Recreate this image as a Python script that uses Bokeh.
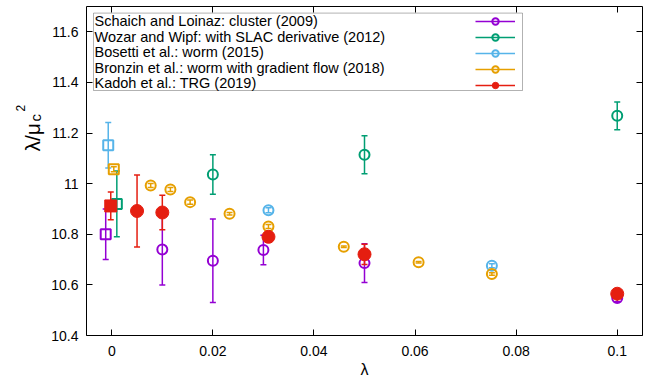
import numpy as np
from bokeh.plotting import figure
from bokeh.layouts import row
from bokeh.models import (LinearAxis, FixedTicker, Range1d, Label, BoxAnnotation,
                          Legend, LegendItem)
from bokeh.embed import file_html
from bokeh.resources import INLINE

FONT = "Liberation Sans"

# ---------------- data ----------------
x_ticks = [0, 0.02, 0.04, 0.06, 0.08, 0.1]
x_tick_labels = ["0", "0.02", "0.04", "0.06", "0.08", "0.1"]
y_ticks = [10.4, 10.6, 10.8, 11.0, 11.2, 11.4, 11.6]
y_tick_labels = ["10.4", "10.6", "10.8", "11", "11.2", "11.4", "11.6"]

names = ["Schaich and Loinaz: cluster (2009)",
         "Wozar and Wipf: with SLAC derivative (2012)",
         "Bosetti et al.: worm (2015)",
         "Bronzin et al.: worm with gradient flow (2018)",
         "Kadoh et al.: TRG (2019)"]
colors = ["#9400D3", "#009E73", "#56B4E9", "#E69F00", "#E51E10"]

schaich_lam = [0.01, 0.02, 0.03, 0.05, 0.1]
schaich_val = [10.740, 10.695, 10.738, 10.686, 10.548]
schaich_err = [0.140, 0.165, 0.058, 0.077, 0.015]
schaich_lam0 = [-0.0012]
schaich_val0 = [10.800]
schaich_err0 = [0.100]

wozar_lam = [0.02, 0.05, 0.1]
wozar_val = [11.036, 11.114, 11.268]
wozar_err = [0.078, 0.075, 0.055]
wozar_lam0 = [0.0010]
wozar_val0 = [10.920]
wozar_err0 = [0.130]

bosetti_lam = [0.031, 0.0752]
bosetti_val = [10.895, 10.676]
bosetti_err = [0.010, 0.008]
bosetti_lam0 = [-0.0007]
bosetti_val0 = [11.152]
bosetti_err0 = [0.090]

bronzin_lam = [0.0077, 0.0116, 0.0155, 0.0233, 0.031, 0.0459, 0.0607, 0.0752]
bronzin_val = [10.993, 10.977, 10.927, 10.881, 10.831, 10.751, 10.689, 10.643]
bronzin_err = [0.008, 0.008, 0.008, 0.005, 0.008, 0.003, 0.003, 0.005]
bronzin_lam0 = [0.0004]
bronzin_val0 = [11.057]
bronzin_err0 = [0.010]

kadoh_lam = [0.005, 0.01, 0.031, 0.05, 0.1]
kadoh_val = [10.892, 10.886, 10.790, 10.721, 10.565]
kadoh_err = [0.142, 0.068, 0.020, 0.040, 0.010]
kadoh_lam0 = [-0.0002]
kadoh_val0 = [10.912]
kadoh_err0 = [0.055]

series = [
    (schaich_lam, schaich_val, schaich_err, schaich_lam0, schaich_val0, schaich_err0, False),
    (wozar_lam, wozar_val, wozar_err, wozar_lam0, wozar_val0, wozar_err0, False),
    (bosetti_lam, bosetti_val, bosetti_err, bosetti_lam0, bosetti_val0, bosetti_err0, False),
    (bronzin_lam, bronzin_val, bronzin_err, bronzin_lam0, bronzin_val0, bronzin_err0, False),
    (kadoh_lam, kadoh_val, kadoh_err, kadoh_lam0, kadoh_val0, kadoh_err0, True),
]

H = 381
W_LAB = 46
W_MAIN = 604

# ---------------- narrow figure holding the y-axis title ----------------
lab = figure(width=W_LAB, height=H, x_range=Range1d(0, W_LAB), y_range=Range1d(0, H),
             output_backend="svg", toolbar_location=None, min_border=0,
             x_axis_location=None, y_axis_location=None)
lab.outline_line_color = None
lab.xgrid.visible = False
lab.ygrid.visible = False
lab.add_layout(Label(x=32, y=184, x_units="screen", y_units="screen", text="λ/μ",
                     angle=np.pi / 2, text_font=FONT, text_font_size="21px",
                     text_color="black", text_align="left", text_baseline="alphabetic"))
lab.add_layout(Label(x=35, y=214, x_units="screen", y_units="screen", text="c",
                     angle=np.pi / 2, text_font=FONT, text_font_size="15px",
                     text_color="black", text_align="left", text_baseline="alphabetic"))
lab.add_layout(Label(x=20, y=224, x_units="screen", y_units="screen", text="2",
                     angle=np.pi / 2, text_font=FONT, text_font_size="12px",
                     text_color="black", text_align="left", text_baseline="alphabetic"))

# ---------------- main figure ----------------
p = figure(width=W_MAIN, height=H, x_range=Range1d(-0.005, 0.105),
           y_range=Range1d(10.4, 11.7), output_backend="svg",
           toolbar_location=None, min_border_left=40, min_border_right=8,
           min_border_top=6, min_border_bottom=46)
p.xgrid.visible = False
p.ygrid.visible = False
p.outline_line_color = "black"
p.outline_line_width = 1


def style_axis(ax, ticks, labels, show, standoff):
    ax.ticker = FixedTicker(ticks=ticks)
    if show:
        ax.major_label_overrides = {t: l for t, l in zip(ticks, labels)}
    else:
        ax.major_label_overrides = {t: "" for t in ticks}
    ax.axis_line_color = None
    ax.major_tick_in = 6
    ax.major_tick_out = 0
    ax.minor_tick_in = 0
    ax.minor_tick_out = 0
    ax.major_tick_line_color = "black"
    ax.major_tick_line_width = 1
    ax.major_label_text_font = FONT
    ax.major_label_text_font_size = "14px" if show else "1px"
    ax.major_label_text_color = "black"
    ax.major_label_standoff = standoff


style_axis(p.xaxis[0], x_ticks, x_tick_labels, True, 10)
style_axis(p.yaxis[0], y_ticks, y_tick_labels, True, 8)
p.xaxis[0].axis_label = "λ"
p.xaxis[0].axis_label_text_font = FONT
p.xaxis[0].axis_label_text_font_size = "16px"
p.xaxis[0].axis_label_text_font_style = "normal"
p.xaxis[0].axis_label_text_color = "black"
p.xaxis[0].axis_label_standoff = 2
top_ax = LinearAxis()
right_ax = LinearAxis()
style_axis(top_ax, x_ticks, x_tick_labels, False, 0)
style_axis(right_ax, y_ticks, y_tick_labels, False, 0)
p.add_layout(top_ax, "above")
p.add_layout(right_ax, "right")

legend_items = []
for (lam, val, err, lam0, val0, err0, filled), name, col in zip(series, names, colors):
    lw = 1.5
    legend_rs = []
    for xs, ys, es, marker in ((lam0, val0, err0, "square"), (lam, val, err, "circle")):
        xs = np.array(xs, dtype=float)
        ys = np.array(ys, dtype=float)
        es = np.array(es, dtype=float)
        seg = p.segment(x0=xs, y0=ys - es, x1=xs, y1=ys + es, line_color=col, line_width=lw)
        p.scatter(np.r_[xs, xs], np.r_[ys - es, ys + es], marker="dash", size=6,
                  line_color=col, line_width=lw)
        if filled:
            pts = p.scatter(xs, ys, marker=marker, size=13 if marker == "circle" else 12,
                            line_color=col, fill_color=col, line_width=1)
        else:
            pts = p.scatter(xs, ys, marker=marker, size=10, line_color=col,
                            fill_color=None, line_width=2)
        if marker == "circle":
            legend_rs = [seg, pts]
    legend_items.append(LegendItem(label=" ", renderers=legend_rs))

# legend frame (screen units, relative to plot frame)
p.add_layout(BoxAnnotation(left=7, right=436, top=322.4, bottom=245,
                           left_units="screen", right_units="screen",
                           top_units="screen", bottom_units="screen",
                           fill_color=None, line_color="black", line_width=1))
for i, name in enumerate(names):
    p.add_layout(Label(x=8, y=314.5 - 15.6 * i, x_units="screen", y_units="screen",
                       text=name, text_font=FONT, text_font_size="14.5px",
                       text_color="black", text_baseline="middle", text_align="left"))

legend = Legend(items=legend_items, location=(389, 242.5), padding=0, margin=0,
                spacing=0, glyph_width=40, glyph_height=16, label_height=16,
                label_standoff=0, label_width=0, label_text_font_size="1px",
                border_line_alpha=0, background_fill_alpha=0)
p.add_layout(legend, "center")

layout = row(lab, p, spacing=0)
open("out.html", "w").write(file_html(layout, INLINE))
